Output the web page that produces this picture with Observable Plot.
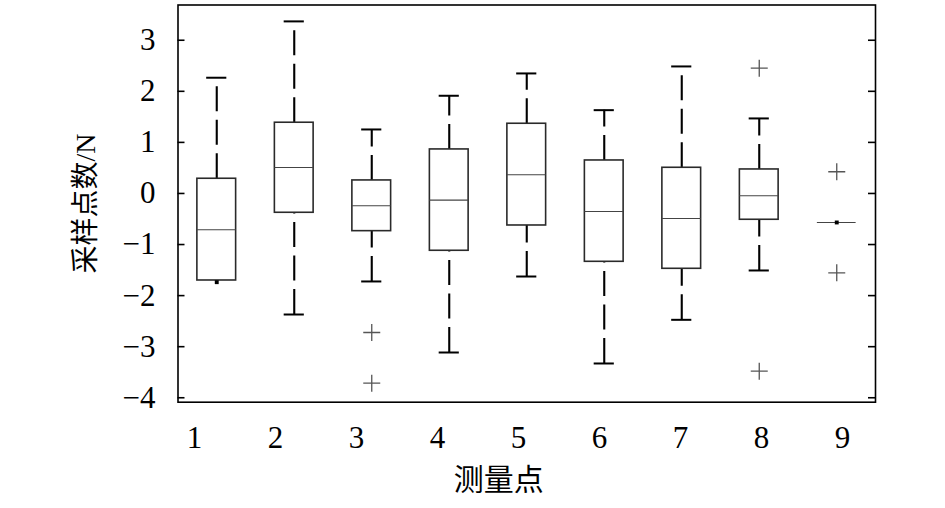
<!DOCTYPE html>
<html>
<head>
<meta charset="utf-8">
<script src="https://cdn.jsdelivr.net/npm/d3@7"></script>
<script src="https://cdn.jsdelivr.net/npm/@observablehq/plot@0.6"></script>
<style>
  html, body { margin: 0; padding: 0; background: #fff; }
</style>
</head>
<body>
<div id="chart"></div>
<script>
// ---- data ----
const categories = [1, 2, 3, 4, 5, 6, 7, 8, 9];
const q1Values   = [-1.704, -0.378, -0.738, -1.122, -0.627, -1.338, -1.475, -0.515, -0.568];
const medValues  = [-0.711,  0.509, -0.241, -0.131,  0.366, -0.353, -0.490, -0.045, -0.568];
const q3Values   = [ 0.288,  1.385,  0.255,  0.862,  1.365,  0.646,  0.503,  0.470, -0.568];
const lowerWhisk = [ null,  -2.370, -1.723, -3.114, -1.626, -3.329, -2.474, -1.508,  null];
const upperWhisk = [ 2.266,  3.369,  1.253,  1.913,  2.350,  1.631,  2.487,  1.469,  null];
const outlierCats   = [3, 3, 8, 8, 9, 9];
const outlierValues = [-2.722, -3.715, 2.454, -3.480, 0.425, -1.553];
const pointCats   = [1, 9];
const pointValues = [-1.737, -0.568];
const yTicks = [-4, -3, -2, -1, 0, 1, 2, 3];
const xLabel = "测量点";
const yLabel = "采样点数/N";

// ---- tables built from the arrays ----
const boxes = categories.map((c, i) => ({
  cat: c, q1: q1Values[i], med: medValues[i], q3: q3Values[i],
  lo: lowerWhisk[i], hi: upperWhisk[i]
}));
const outliers = outlierCats.map((c, i) => ({cat: c, v: outlierValues[i]}));
const points = pointCats.map((c, i) => ({cat: c, v: pointValues[i]}));

// ---- layout / style ----
const W = 945, H = 508;
const mL = 177.5, mR = 70, mT = 4.5, mB = 106.3;
const innerW = W - mL - mR;
const halfBox = 0.25, halfCap = 0.13;
const labelStart = 0.713, labelStep = 1.045; // tick labels sit slightly off the boxes in the original
const serif = "'Liberation Serif', 'Times New Roman', 'Noto Sans CJK SC', serif";
const cjk = "'Liberation Serif', 'Noto Sans CJK SC', sans-serif";

const thinPlus = {
  draw(ctx, size) {
    const r = Math.sqrt(size / Math.PI);
    ctx.moveTo(-r, 0); ctx.lineTo(r, 0);
    ctx.moveTo(0, -r); ctx.lineTo(0, r);
  }
};

const chart = Plot.plot({
  width: W, height: H,
  marginLeft: mL, marginRight: mR, marginTop: mT, marginBottom: mB,
  style: {background: "white", fontFamily: serif, color: "black"},
  x: {type: "linear", domain: [0.5, 9.5], axis: null},
  y: {domain: [-4.087, 3.69]},
  marks: [
    // whiskers (dashed), drawn from bottom to top
    Plot.ruleX(boxes.filter(d => d.hi != null), {
      x: "cat", y1: "q3", y2: "hi",
      stroke: "black", strokeWidth: 2.1, strokeDasharray: "25,8.5"
    }),
    Plot.ruleX(boxes.filter(d => d.lo != null), {
      x: "cat", y1: "lo", y2: "q1",
      stroke: "black", strokeWidth: 2.1, strokeDasharray: "25,8.5"
    }),
    // whisker caps
    Plot.ruleY(boxes.filter(d => d.hi != null), {
      y: "hi", x1: d => d.cat - halfCap, x2: d => d.cat + halfCap,
      stroke: "black", strokeWidth: 2
    }),
    Plot.ruleY(boxes.filter(d => d.lo != null), {
      y: "lo", x1: d => d.cat - halfCap, x2: d => d.cat + halfCap,
      stroke: "black", strokeWidth: 2
    }),
    // boxes
    Plot.rect(boxes.filter(d => d.q3 > d.q1), {
      x1: d => d.cat - halfBox, x2: d => d.cat + halfBox,
      y1: "q1", y2: "q3",
      fill: "white", stroke: "#2a2a2a", strokeWidth: 1.6
    }),
    // medians
    Plot.ruleY(boxes, {
      y: "med", x1: d => d.cat - halfBox, x2: d => d.cat + halfBox,
      stroke: "#444", strokeWidth: 1.1
    }),
    // outliers
    Plot.dot(outliers, {
      x: "cat", y: "v", symbol: thinPlus, r: 8.5,
      stroke: "#555", strokeWidth: 1.3, fill: "none"
    }),
    // small dots
    Plot.dot(points, {
      x: "cat", y: "v", symbol: "square", r: 2.2, fill: "black", stroke: "none"
    }),
    // frame
    Plot.frame({stroke: "black", strokeWidth: 1.6}),
    // inward y ticks, left and right
    Plot.tickY(yTicks, {y: d => d, insetRight: innerW - 7, stroke: "black", strokeWidth: 1.6}),
    Plot.tickY(yTicks, {y: d => d, insetLeft: innerW - 7, stroke: "black", strokeWidth: 1.6}),
    // y tick labels
    Plot.axisY({
      ticks: yTicks, tickSize: 0, tickPadding: 22.5,
      fontSize: 31, fontFamily: serif, label: null
    }),
    // x tick labels
    Plot.text(categories, {
      x: d => labelStart + (d - 1) * labelStep, text: d => String(d),
      frameAnchor: "bottom", textAnchor: "middle", lineAnchor: "middle",
      dy: 35.5, fontSize: 31, fontFamily: serif, fill: "black"
    }),
    // axis titles
    Plot.text([xLabel], {
      text: d => d, frameAnchor: "bottom", textAnchor: "middle", lineAnchor: "middle",
      dx: -28, dy: 78, fontSize: 30, fontFamily: cjk, fill: "black"
    }),
    Plot.text([yLabel], {
      text: d => d, frameAnchor: "left", textAnchor: "middle", lineAnchor: "middle",
      dx: -91.5, rotate: -90, fontSize: 28, fontFamily: cjk, fill: "black"
    })
  ]
});

document.getElementById("chart").appendChild(chart);
</script>
</body>
</html>
